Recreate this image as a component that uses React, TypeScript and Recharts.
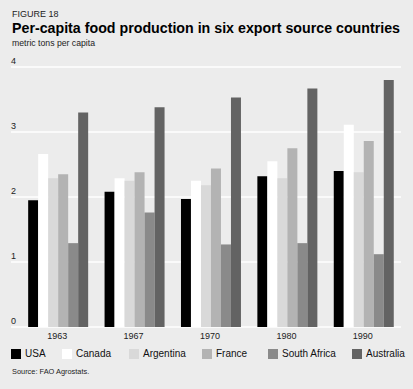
import { BarChart, Bar, XAxis, YAxis, CartesianGrid } from "recharts";

const years = ["1963", "1967", "1970", "1980", "1990"];
const usa = [1.95, 2.08, 1.97, 2.32, 2.4];
const canada = [2.66, 2.29, 2.25, 2.55, 3.11];
const argentina = [2.29, 2.25, 2.18, 2.29, 2.38];
const france = [2.35, 2.38, 2.44, 2.75, 2.86];
const southAfrica = [1.29, 1.76, 1.27, 1.29, 1.12];
const australia = [3.3, 3.38, 3.53, 3.67, 3.8];
const yTicks = [0, 1, 2, 3, 4];

const SERIES = [
  { key: "USA", values: usa, color: "#000000" },
  { key: "Canada", values: canada, color: "#ffffff" },
  { key: "Argentina", values: argentina, color: "#d9d9d9" },
  { key: "France", values: france, color: "#b3b3b3" },
  { key: "South Africa", values: southAfrica, color: "#8a8a8a" },
  { key: "Australia", values: australia, color: "#636363" },
];

const data = years.map((year, i) => {
  const row: Record<string, string | number> = { year };
  SERIES.forEach((s) => {
    row[s.key] = s.values[i];
  });
  return row;
});

const FONT = '"Liberation Sans", Arial, Helvetica, sans-serif';

// left edge of each legend swatch
const legendX = [11, 62, 129, 202, 268, 352];

export default function App() {
  return (
    <div
      style={{
        position: "fixed",
        left: 0,
        top: 0,
        width: 413,
        height: 389,
        background: "#ececec",
        fontFamily: FONT,
        color: "#111",
      }}
    >
      <svg width={413} height={60} style={{ position: "absolute", left: 0, top: 0 }}>
        <text x={12} y={15} dominantBaseline="middle" fontSize={9} fontFamily={FONT} fill="#222">
          FIGURE 18
        </text>
        <text
          x={12}
          y={29}
          dominantBaseline="middle"
          fontSize={14.5}
          fontWeight={900}
          fontFamily={FONT}
          fill="#000"
          textLength={388}
          lengthAdjust="spacingAndGlyphs"
        >
          Per-capita food production in six export source countries
        </text>
        <text x={12} y={44} dominantBaseline="middle" fontSize={8.7} fontFamily={FONT} fill="#222">
          metric tons per capita
        </text>
      </svg>
      <div style={{ position: "absolute", left: 0, top: 0 }}>
        <BarChart
          width={413}
          height={389}
          data={data}
          margin={{ top: 67, right: 12, left: 11, bottom: 42 }}
          barCategoryGap="12%"
          barGap={0}
        >
          <CartesianGrid horizontal vertical={false} stroke="#ffffff" strokeWidth={1.5} />
          <YAxis
            width={1}
            mirror
            domain={[0, 4]}
            ticks={yTicks}
            axisLine={false}
            tickLine={false}
            tickSize={0}
            tickMargin={0}
            tick={{ fontSize: 9, fill: "#222", fontFamily: FONT, textAnchor: "start", dy: -6 }}
          />
          <XAxis
            dataKey="year"
            height={20}
            axisLine={false}
            tickLine={false}
            tickSize={0}
            tickMargin={6}
            padding={{ left: 8, right: 0 }}
            tick={{ fontSize: 9, fill: "#222", fontFamily: FONT }}
            interval={0}
          />
          {SERIES.map((s) => (
            <Bar key={s.key} dataKey={s.key} fill={s.color} isAnimationActive={false} />
          ))}
        </BarChart>
      </div>
      {SERIES.map((s, i) => (
        <div
          key={s.key}
          style={{
            position: "absolute",
            left: legendX[i],
            top: 348,
            display: "flex",
            alignItems: "center",
            fontSize: 10,
            lineHeight: "12px",
            whiteSpace: "nowrap",
          }}
        >
          <span style={{ display: "inline-block", width: 10, height: 10, background: s.color, marginRight: 4 }} />
          {s.key}
        </div>
      ))}
      <div style={{ position: "absolute", left: 12, top: 367, fontSize: 7.4, color: "#222" }}>
        Source: FAO Agrostats.
      </div>
    </div>
  );
}
